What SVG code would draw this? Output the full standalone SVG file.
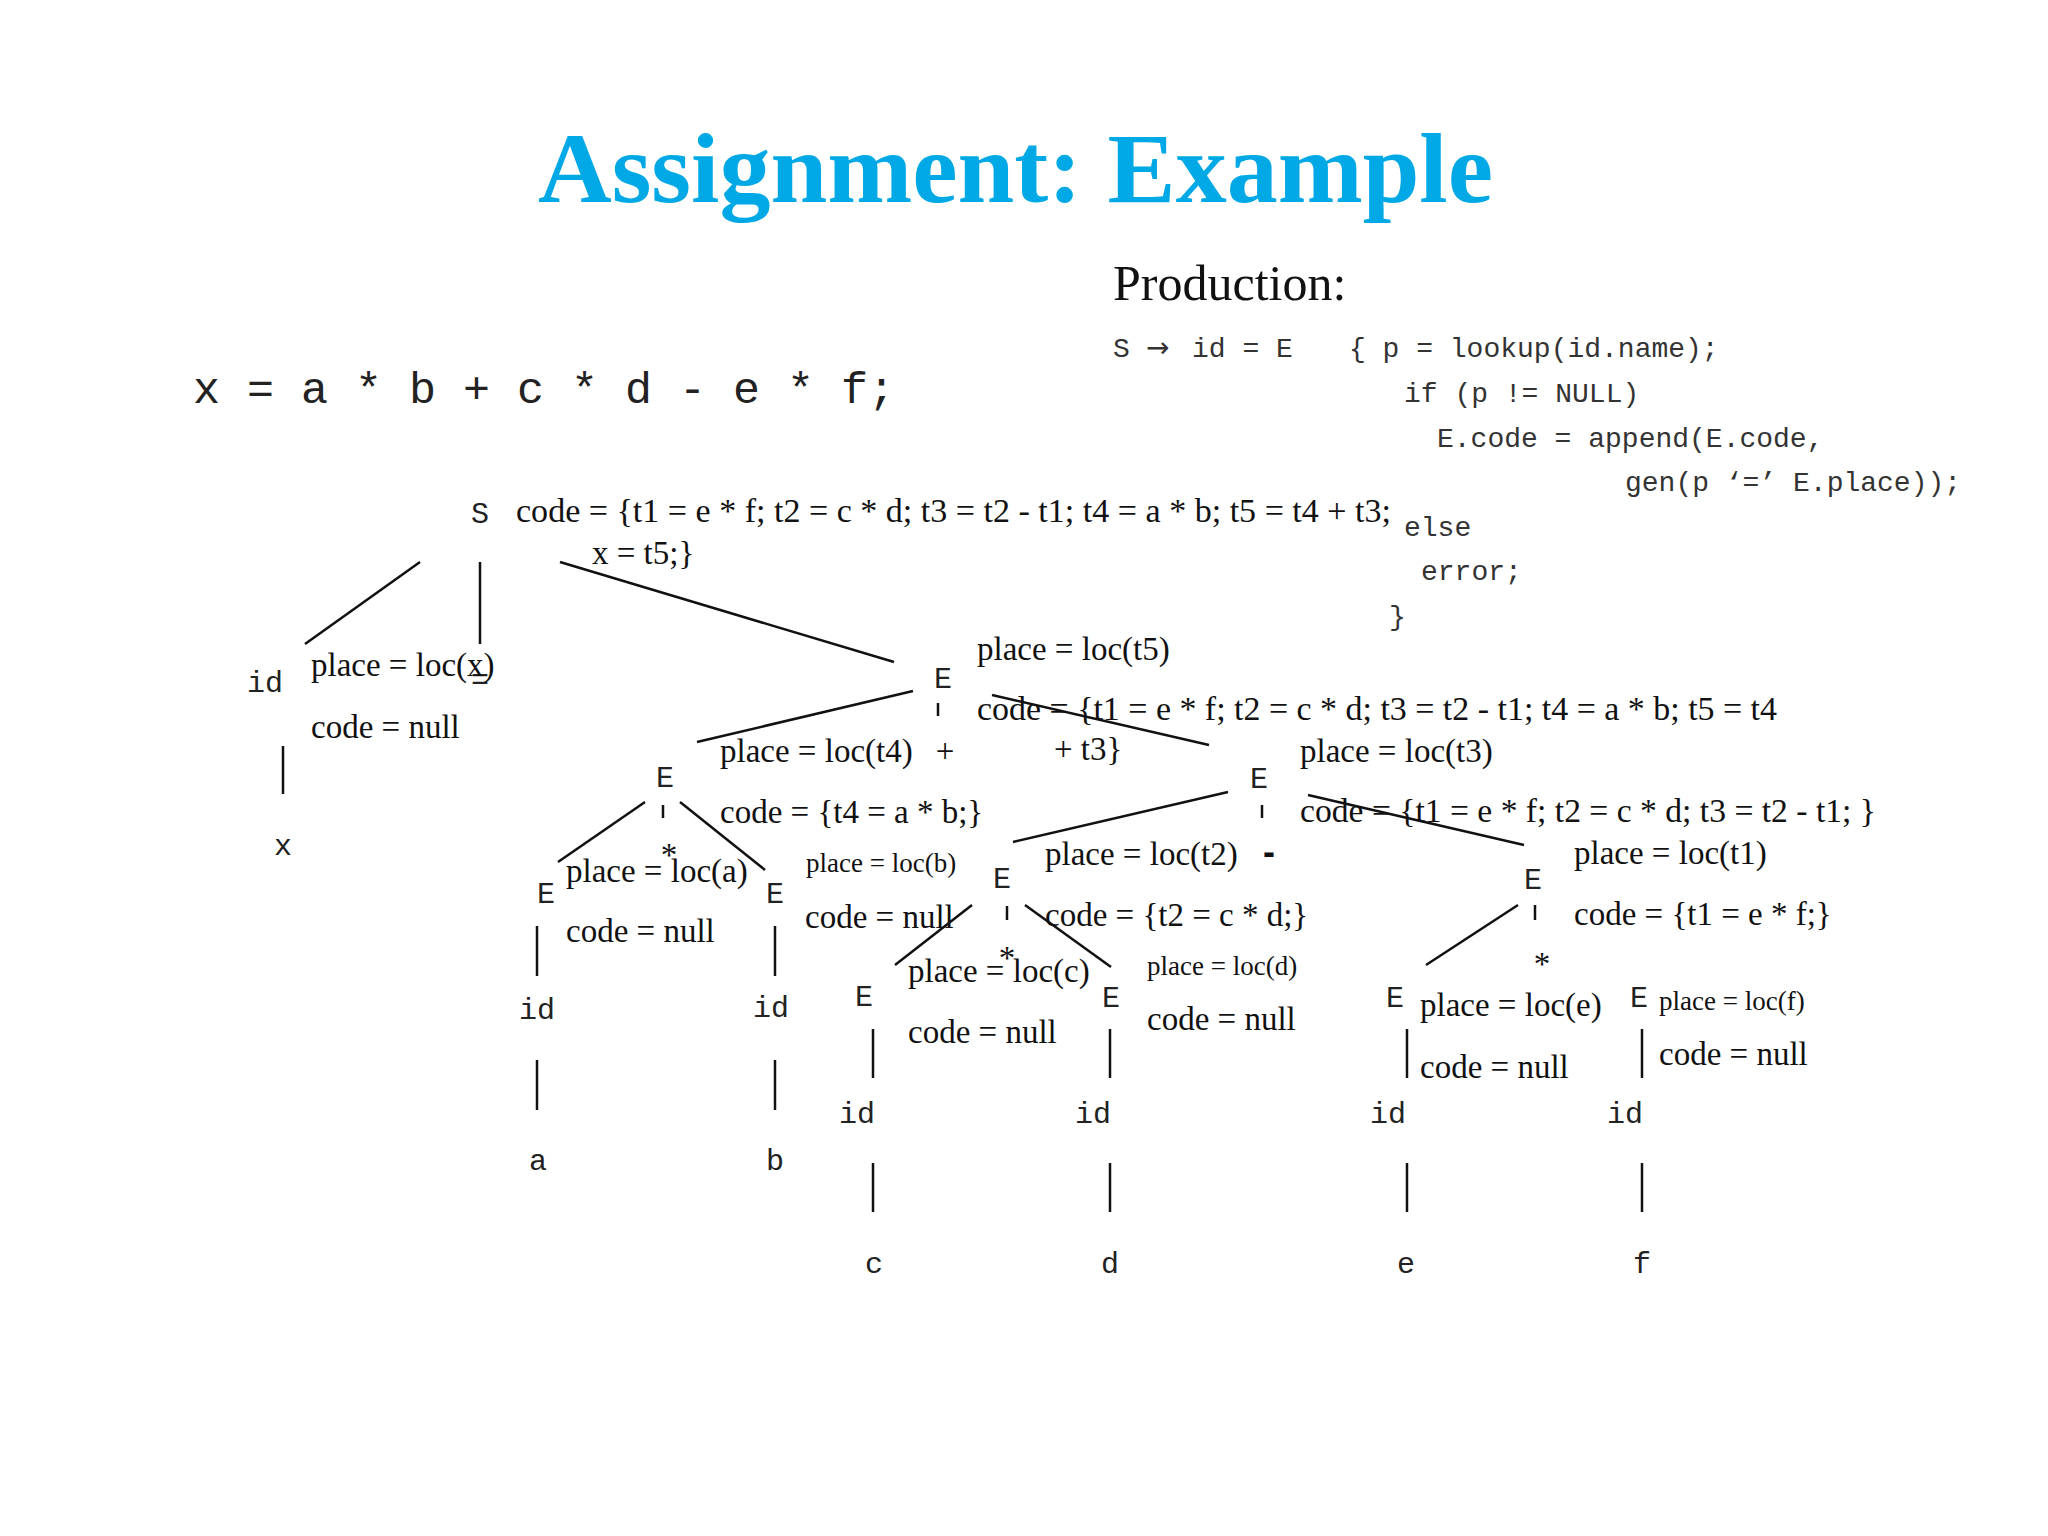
<svg xmlns="http://www.w3.org/2000/svg" width="2048" height="1536" viewBox="0 0 2048 1536">
<style>
.title{font-family:"Liberation Serif",serif;font-weight:bold;font-size:100px;fill:#00A9E6}
.prod{font-family:"Liberation Serif",serif;font-size:50px;fill:#111}
.code{font-family:"Liberation Mono","DejaVu Sans Mono",monospace;font-size:28px;fill:#333}
.arrow{font-family:"DejaVu Sans",sans-serif;font-size:28px;fill:#333}
.expr{font-family:"Liberation Mono",monospace;font-size:45px;fill:#222}
.n{font-family:"Liberation Mono",monospace;font-size:30px;fill:#222;text-anchor:middle}
.a{font-family:"Liberation Serif",serif;font-size:33px;fill:#111}
.s{font-family:"Liberation Serif",serif;font-size:27px;fill:#111}
.op{font-family:"Liberation Serif",serif;font-size:33px;fill:#111;text-anchor:middle}
.dash{font-family:"Liberation Sans",sans-serif;font-weight:bold;font-size:36px;fill:#111;text-anchor:middle}
.edges line{stroke:#111;stroke-width:2.5;stroke-linecap:butt}
</style>
<rect width="2048" height="1536" fill="#fff"/>
<text class="title" x="538" y="202" textLength="955" lengthAdjust="spacingAndGlyphs">Assignment: Example</text>
<g id="production">
<text class="prod" x="1113" y="300">Production:</text>
<text class="code" x="1113" y="357">S</text>
<text class="arrow" x="1146" y="357">→</text>
<text class="code" x="1192" y="357">id = E</text>
<text class="code" x="1349" y="357">{ p = lookup(id.name);</text>
<text class="code" x="1404" y="402">if (p != NULL)</text>
<text class="code" x="1437" y="447">E.code = append(E.code,</text>
<text class="code" x="1625" y="491">gen(p ‘=’ E.place));</text>
<text class="code" x="1404" y="536">else</text>
<text class="code" x="1421" y="580">error;</text>
<text class="code" x="1389" y="625">}</text>
</g>
<text class="expr" x="193" y="403">x = a * b + c * d - e * f;</text>
<g class="edges" id="connectors">
<line x1="420" y1="562" x2="305" y2="644"/>
<line x1="480" y1="562" x2="480" y2="644"/>
<line x1="560" y1="562" x2="894" y2="662"/>
<line x1="283" y1="746" x2="283" y2="794"/>
<line x1="913" y1="691" x2="697" y2="742"/>
<line x1="938" y1="703" x2="938" y2="716"/>
<line x1="992" y1="695" x2="1209" y2="745"/>
<line x1="645" y1="802" x2="558" y2="862"/>
<line x1="663" y1="805" x2="663" y2="818"/>
<line x1="680" y1="802" x2="765" y2="870"/>
<line x1="537" y1="926" x2="537" y2="976"/>
<line x1="537" y1="1060" x2="537" y2="1110"/>
<line x1="775" y1="926" x2="775" y2="976"/>
<line x1="775" y1="1060" x2="775" y2="1110"/>
<line x1="1228" y1="792" x2="1013" y2="842"/>
<line x1="1262" y1="805" x2="1262" y2="818"/>
<line x1="1308" y1="795" x2="1524" y2="845"/>
<line x1="972" y1="905" x2="895" y2="965"/>
<line x1="1007" y1="906" x2="1007" y2="920"/>
<line x1="1025" y1="905" x2="1111" y2="967"/>
<line x1="873" y1="1029" x2="873" y2="1078"/>
<line x1="873" y1="1163" x2="873" y2="1212"/>
<line x1="1110" y1="1029" x2="1110" y2="1078"/>
<line x1="1110" y1="1163" x2="1110" y2="1212"/>
<line x1="1518" y1="905" x2="1426" y2="965"/>
<line x1="1535" y1="905" x2="1535" y2="920"/>
<line x1="1407" y1="1029" x2="1407" y2="1078"/>
<line x1="1407" y1="1163" x2="1407" y2="1212"/>
<line x1="1642" y1="1029" x2="1642" y2="1078"/>
<line x1="1642" y1="1163" x2="1642" y2="1212"/>
</g>
<g id="node-S">
<text class="n" x="480" y="523">S</text>
<text class="a" x="516" y="522" textLength="875" lengthAdjust="spacingAndGlyphs">code = {t1 = e * f; t2 = c * d; t3 = t2 - t1; t4 = a * b; t5 = t4 + t3;</text>
<text class="a" x="592" y="564">x = t5;}</text>
</g>
<g id="node-eq">
<text class="n" x="480" y="689">=</text>
</g>
<g id="node-id-x">
<text class="n" x="265" y="692">id</text>
<text class="a" x="311" y="676">place = loc(x)</text>
<text class="a" x="311" y="738">code = null</text>
<text class="n" x="283" y="855">x</text>
</g>
<g id="node-E-t5">
<text class="n" x="943" y="688">E</text>
<text class="a" x="977" y="660">place = loc(t5)</text>
<text class="a" x="977" y="720" textLength="800" lengthAdjust="spacingAndGlyphs">code = {t1 = e * f; t2 = c * d; t3 = t2 - t1; t4 = a * b; t5 = t4</text>
<text class="a" x="1054" y="760">+ t3}</text>
<text class="op" x="945" y="762">+</text>
</g>
<g id="node-E-t4">
<text class="n" x="665" y="787">E</text>
<text class="a" x="720" y="762">place = loc(t4)</text>
<text class="a" x="720" y="823">code = {t4 = a * b;}</text>
<text class="op" x="669" y="866">*</text>
</g>
<g id="node-E-a">
<text class="n" x="546" y="903">E</text>
<text class="a" x="566" y="882">place = loc(a)</text>
<text class="a" x="566" y="942">code = null</text>
<text class="n" x="537" y="1019">id</text>
<text class="n" x="538" y="1170">a</text>
</g>
<g id="node-E-b">
<text class="n" x="775" y="903">E</text>
<text class="s" x="806" y="872">place = loc(b)</text>
<text class="a" x="805" y="928">code = null</text>
<text class="n" x="771" y="1017">id</text>
<text class="n" x="775" y="1170">b</text>
</g>
<g id="node-E-t3">
<text class="n" x="1259" y="788">E</text>
<text class="a" x="1300" y="762">place = loc(t3)</text>
<text class="a" x="1300" y="822" textLength="576" lengthAdjust="spacingAndGlyphs">code = {t1 = e * f; t2 = c * d; t3 = t2 - t1; }</text>
<text class="dash" x="1269" y="864">-</text>
</g>
<g id="node-E-t2">
<text class="n" x="1002" y="888">E</text>
<text class="a" x="1045" y="865">place = loc(t2)</text>
<text class="a" x="1045" y="926">code = {t2 = c * d;}</text>
<text class="op" x="1007" y="969">*</text>
</g>
<g id="node-E-c">
<text class="n" x="864" y="1006">E</text>
<text class="a" x="908" y="982">place = loc(c)</text>
<text class="a" x="908" y="1043">code = null</text>
<text class="n" x="857" y="1123">id</text>
<text class="n" x="874" y="1273">c</text>
</g>
<g id="node-E-d">
<text class="n" x="1111" y="1007">E</text>
<text class="s" x="1147" y="975">place = loc(d)</text>
<text class="a" x="1147" y="1030">code = null</text>
<text class="n" x="1093" y="1123">id</text>
<text class="n" x="1110" y="1273">d</text>
</g>
<g id="node-E-t1">
<text class="n" x="1533" y="889">E</text>
<text class="a" x="1574" y="864">place = loc(t1)</text>
<text class="a" x="1574" y="925">code = {t1 = e * f;}</text>
<text class="op" x="1542" y="975">*</text>
</g>
<g id="node-E-e">
<text class="n" x="1395" y="1007">E</text>
<text class="a" x="1420" y="1016">place = loc(e)</text>
<text class="a" x="1420" y="1078">code = null</text>
<text class="n" x="1388" y="1123">id</text>
<text class="n" x="1406" y="1273">e</text>
</g>
<g id="node-E-f">
<text class="n" x="1639" y="1007">E</text>
<text class="s" x="1659" y="1010">place = loc(f)</text>
<text class="a" x="1659" y="1065">code = null</text>
<text class="n" x="1625" y="1123">id</text>
<text class="n" x="1642" y="1273">f</text>
</g>
</svg>
